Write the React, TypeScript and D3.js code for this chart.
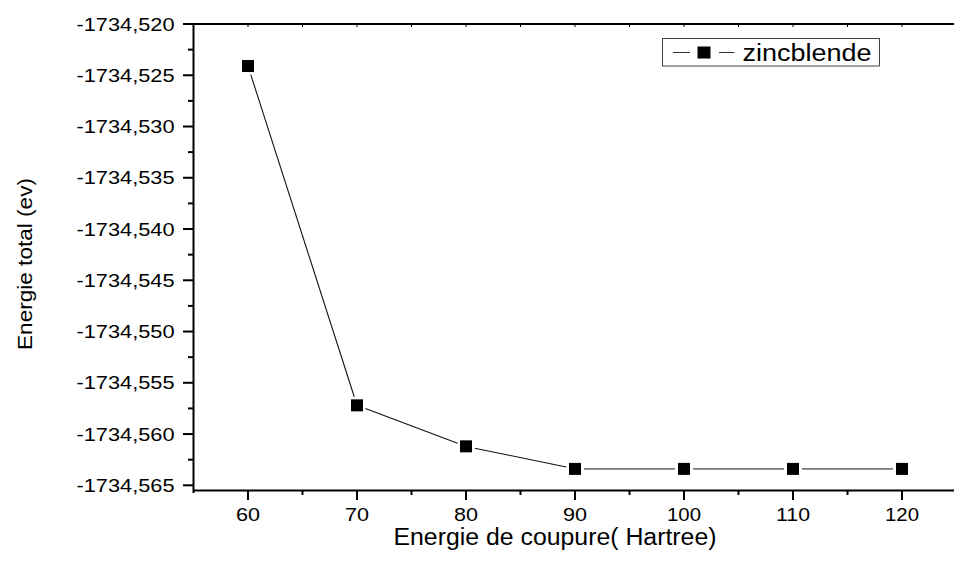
import React from "react";
import * as d3 from "d3";

const cutoffs = [60, 70, 80, 90, 100, 110, 120];
const energies = [-1734.5241, -1734.5572, -1734.5612, -1734.5634, -1734.5634, -1734.5634, -1734.5634];
const seriesName = "zincblende";
const xTicks = [60, 70, 80, 90, 100, 110, 120];
const xMinor = [65, 75, 85, 95, 105, 115, 125];
const yTicks = [-1734.52, -1734.525, -1734.53, -1734.535, -1734.54, -1734.545, -1734.55, -1734.555, -1734.56, -1734.565];
const yMinor = [-1734.5225, -1734.5275, -1734.5325, -1734.5375, -1734.5425, -1734.5475, -1734.5525, -1734.5575, -1734.5625];
const xTitle = "Energie de coupure( Hartree)";
const yTitle = "Energie total (ev)";

const W = 954;
const H = 563;
const FONT = "'Liberation Sans', Arial, Helvetica, sans-serif";

export default function App() {
  const x = d3.scaleLinear().domain([55, 125]).range([193.5, 193.5 + 10.9 * 70]);
  const y = d3.scaleLinear().domain([-1734.52, -1734.565]).range([24, 485.3]);
  const axisY = 490.5;
  const axisX = 193.5;
  const fmt = (v: number) => d3.format(".3f")(v).replace(".", ",").replace("−", "-");
  const pts = cutoffs.map((c, i) => [x(c), y(energies[i])] as [number, number]);
  const half = 6;
  const gap = 9;
  const segs = pts.slice(1).map((p, i) => {
    const a = pts[i];
    const dx = p[0] - a[0];
    const dy = p[1] - a[1];
    const len = Math.hypot(dx, dy);
    const ux = dx / len;
    const uy = dy / len;
    const horiz = Math.abs(dy) < 0.5;
    return {
      x1: a[0] + ux * gap,
      y1: a[1] + uy * gap,
      x2: p[0] - ux * gap,
      y2: p[1] - uy * gap,
      color: horiz ? "#7a7a7a" : "#111",
      w: horiz ? 1.6 : 1.1,
    };
  });

  return (
    <svg width={W} height={H} style={{ position: "fixed", left: 0, top: 0, background: "#fff" }} fontFamily={FONT}>
      <rect x={0} y={0} width={W} height={H} fill="#fff" />
      {/* axes */}
      <line x1={axisX} x2={W} y1={axisY} y2={axisY} stroke="#000" strokeWidth={2} />
      <line x1={axisX} x2={axisX} y1={23} y2={493} stroke="#000" strokeWidth={2} />
      <line x1={axisX} x2={W} y1={24} y2={24} stroke="#000" strokeWidth={2} />
      {/* top ticks (inward, small) */}
      {[...xTicks, ...xMinor].map((t) => (
        <line key={"tt" + t} x1={x(t)} x2={x(t)} y1={24} y2={27} stroke="#000" strokeWidth={1} />
      ))}
      {/* x ticks */}
      {xTicks.map((t) => (
        <g key={"xt" + t}>
          <line x1={x(t)} x2={x(t)} y1={axisY} y2={500} stroke="#000" strokeWidth={2} />
          <text x={x(t)} y={520.5} fontSize={19} textAnchor="middle" fill="#000"
            textLength={String(t).length === 3 ? 34 : 24} lengthAdjust="spacingAndGlyphs">{t}</text>
        </g>
      ))}
      {xMinor.map((t) => (
        <line key={"xm" + t} x1={x(t)} x2={x(t)} y1={axisY} y2={495} stroke="#000" strokeWidth={2} />
      ))}
      {/* y ticks */}
      {yTicks.map((t) => (
        <g key={"yt" + t}>
          <line x1={183} x2={axisX} y1={y(t)} y2={y(t)} stroke="#000" strokeWidth={2} />
          <text x={174.5} y={y(t) + 6.5} fontSize={18} textAnchor="end" fill="#000"
            textLength={98} lengthAdjust="spacingAndGlyphs">{fmt(t)}</text>
        </g>
      ))}
      {yMinor.map((t) => (
        <line key={"ym" + t} x1={188} x2={axisX} y1={y(t)} y2={y(t)} stroke="#000" strokeWidth={2} />
      ))}
      {/* series */}
      {segs.map((s, i) => (
        <line key={"s" + i} x1={s.x1} y1={s.y1} x2={s.x2} y2={s.y2} stroke={s.color} strokeWidth={s.w} />
      ))}
      {pts.map((p, i) => (
        <rect key={"m" + i} x={p[0] - half} y={p[1] - half} width={half * 2} height={half * 2} fill="#000" />
      ))}
      {/* legend */}
      <rect x={662.5} y={38.5} width={217} height={27.5} fill="#fff" stroke="#444" strokeWidth={1} />
      <line x1={673} x2={690} y1={52.5} y2={52.5} stroke="#333" strokeWidth={1} />
      <rect x={697.5} y={46.5} width={13} height={12} fill="#000" />
      <line x1={719} x2={734.5} y1={52.5} y2={52.5} stroke="#333" strokeWidth={1} />
      <text x={742.5} y={61} fontSize={23} fill="#000" textLength={129} lengthAdjust="spacingAndGlyphs">{seriesName}</text>
      {/* titles */}
      <text x={555} y={545} fontSize={23} textAnchor="middle" fill="#000" textLength={323} lengthAdjust="spacingAndGlyphs">{xTitle}</text>
      <text transform={`translate(32,264) rotate(-90)`} fontSize={21} textAnchor="middle" fill="#000"
        textLength={172} lengthAdjust="spacingAndGlyphs">{yTitle}</text>
    </svg>
  );
}
